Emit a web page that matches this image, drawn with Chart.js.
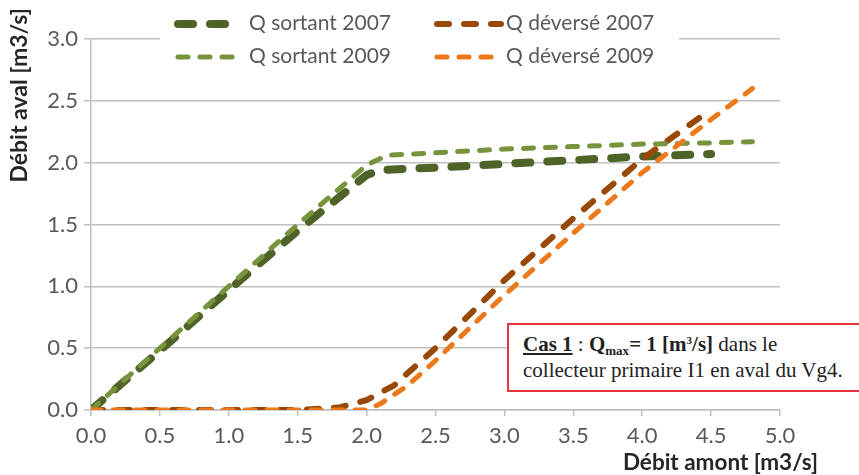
<!DOCTYPE html>
<html>
<head>
<meta charset="utf-8">
<title>Débit aval / débit amont</title>
<script src="https://cdn.jsdelivr.net/npm/chart.js@4.4.0/dist/chart.umd.min.js"></script>
<style>
  html, body { margin: 0; padding: 0; background: #fff; overflow: hidden; }
  #wrap { position: relative; width: 859px; height: 475px; }
  #cas {
    position: absolute; left: 507px; top: 323px; width: 380px; height: 69px;
    box-sizing: border-box; border: 2px solid #e5373c; background: #fff;
    padding: 6px 0 0 14px; font-family: "Liberation Serif", serif; font-size: 21px;
    line-height: 26px; color: #222; white-space: nowrap;
  }
  #cas sub { font-size: 13px; line-height: 0; vertical-align: -4px; }
  #cas sup { font-size: 11px; line-height: 0; vertical-align: 7px; }
</style>
</head>
<body>
<div id="wrap">
  <canvas id="graphique" width="859" height="475"></canvas>
  <div id="cas"><b><u>Cas 1</u></b> : <b>Q<sub>max</sub>= 1 [m<sup>3</sup>/s]</b> dans le<br>collecteur primaire I1 en aval du Vg4.</div>
</div>
<script>
// debit amont (x) et debit aval (y), en m3/s
var amontSortant2007 = [0, 0.5, 1.0, 1.5, 2.0, 2.1, 2.5, 3.0, 3.5, 4.0, 4.5];
var sortant2007      = [0, 0.48, 0.97, 1.45, 1.9, 1.94, 1.96, 1.99, 2.02, 2.05, 2.07];

var amontDeverse2007 = [0, 0.5, 1.0, 1.5, 1.8, 2.0, 2.2, 2.5, 3.0, 3.5, 4.0, 4.5];
var deverse2007      = [0, 0, 0, 0, 0.02, 0.08, 0.2, 0.5, 1.05, 1.55, 2.03, 2.43];

var amontSortant2009 = [0, 0.5, 1.0, 1.5, 2.0, 2.15, 2.5, 3.0, 3.5, 4.0, 4.5, 4.8];
var sortant2009      = [0, 0.5, 1.0, 1.5, 1.98, 2.06, 2.08, 2.11, 2.13, 2.15, 2.16, 2.17];

var amontDeverse2009 = [0, 0.5, 1.0, 1.5, 2.0, 2.1, 2.3, 2.5, 3.0, 3.5, 4.0, 4.5, 4.8];
var deverse2009      = [0, 0, 0, 0, 0, 0.05, 0.2, 0.4, 0.93, 1.43, 1.92, 2.35, 2.6];

var series = ["Q sortant 2007", "Q déversé 2007", "Q sortant 2009", "Q déversé 2009"];
var couleurs = ["#4f6228", "#984807", "#77933c", "#ec7a1c"];

var titreX = "Débit amont [m3/s]";
var titreY = "Débit aval [m3/s]";

function points(xs, ys) {
    var pts = [];
    for (var i = 0; i < xs.length; i++) {
        pts.push({ x: xs[i], y: ys[i] });
    }
    return pts;
}

var gris = "#bfbfbf";
var police = "Lato";

// legende sur deux colonnes + titres d'axes
var legende = {
    id: "legende",
    afterDraw: function (chart) {
        var ctx = chart.ctx;
        ctx.save();
        // fond blanc de la legende (cache le quadrillage du haut)
        ctx.fillStyle = "#fff";
        ctx.fillRect(160, 0, 519, 74);

        var pos = [
            { x0: 178, x1: 238, y: 24, tx: 249 },
            { x0: 437, x1: 501, y: 24, tx: 506 },
            { x0: 178, x1: 240, y: 57, tx: 249 },
            { x0: 437, x1: 496, y: 57, tx: 506 }
        ];
        chart.data.datasets.forEach(function (ds, i) {
            var p = pos[i];
            ctx.strokeStyle = ds.borderColor;
            ctx.lineWidth = ds.borderWidth;
            ctx.lineCap = "round";
            ctx.setLineDash(ds.borderDash);
            ctx.beginPath();
            ctx.moveTo(p.x0, p.y);
            ctx.lineTo(p.x1, p.y);
            ctx.stroke();
            ctx.setLineDash([]);
            ctx.fillStyle = "#595959";
            ctx.font = "21px " + police;
            ctx.textAlign = "left";
            ctx.textBaseline = "middle";
            ctx.fillText(ds.label, p.tx, p.y - 1);
        });

        ctx.fillStyle = "#262626";
        ctx.font = "bold 22.5px " + police;
        ctx.textAlign = "right";
        ctx.textBaseline = "middle";
        ctx.fillText(titreX, 818, 463);

        ctx.font = "bold 23px " + police;
        ctx.translate(20, 8);
        ctx.rotate(-Math.PI / 2);
        ctx.textAlign = "right";
        ctx.fillText(titreY, 0, 0);
        ctx.restore();
    }
};

var datasets = [
    { label: series[0], data: points(amontSortant2007, sortant2007), borderColor: couleurs[0], borderWidth: 8, borderDash: [15, 17], order: 3 },
    { label: series[1], data: points(amontDeverse2007, deverse2007), borderColor: couleurs[1], borderWidth: 6, borderDash: [12, 15], order: 2 },
    { label: series[2], data: points(amontSortant2009, sortant2009), borderColor: couleurs[2], borderWidth: 5, borderDash: [10, 12], order: 1 },
    { label: series[3], data: points(amontDeverse2009, deverse2009), borderColor: couleurs[3], borderWidth: 5, borderDash: [10, 12], order: 0 }
];
datasets.forEach(function (ds) {
    ds.showLine = true;
    ds.pointRadius = 0;
    ds.pointHoverRadius = 0;
    ds.borderCapStyle = "round";
    ds.borderJoinStyle = "round";
    ds.tension = 0;
    ds.fill = false;
});

Chart.defaults.font.family = police;

var graphique = new Chart(document.getElementById("graphique"), {
    type: "scatter",
    data: { datasets: datasets },
    options: {
        responsive: false,
        animation: false,
        layout: { padding: { left: 0, right: 79, top: 39, bottom: 0 } },
        plugins: { legend: { display: false }, tooltip: { enabled: false } },
        scales: {
            x: {
                type: "linear", min: 0, max: 5,
                ticks: { stepSize: 0.5, color: "#595959", font: { size: 22 }, padding: 7, maxRotation: 0,
                         callback: function (v) { return v.toFixed(1); } },
                grid: { drawOnChartArea: false, drawTicks: true, tickLength: 6, color: gris, lineWidth: 1.5 },
                border: { color: gris, width: 1.5 },
                afterFit: function (scale) { scale.height = 65; }
            },
            y: {
                type: "linear", min: 0, max: 3,
                ticks: { stepSize: 0.5, color: "#595959", font: { size: 22 }, padding: 6,
                         callback: function (v) { return v.toFixed(1); } },
                grid: { color: gris, lineWidth: 1.5, tickLength: 7 },
                border: { color: gris, width: 1.5 },
                afterFit: function (scale) { scale.width = 91; }
            }
        }
    },
    plugins: [legende]
});
</script>
</body>
</html>
